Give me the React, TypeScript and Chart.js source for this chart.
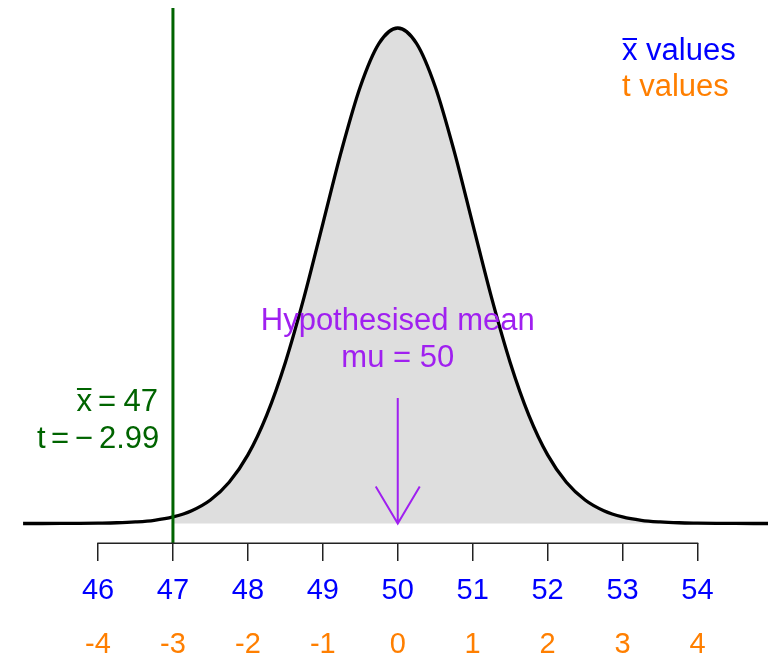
import React, { useEffect, useRef } from "react";
import { Chart, registerables } from "chart.js";

Chart.register(...registerables);

// ---- data ----
const xValues = [
  45, 45.25, 45.5, 45.75, 46, 46.25, 46.5, 46.75, 47, 47.25, 47.5, 47.75, 48, 48.25, 48.5, 48.75,
  49, 49.25, 49.5, 49.75, 50, 50.25, 50.5, 50.75, 51, 51.25, 51.5, 51.75, 52, 52.25, 52.5, 52.75,
  53, 53.25, 53.5, 53.75, 54, 54.25, 54.5, 54.75, 55,
];
const density = [
  0.00001, 0.00002, 0.00005, 0.0001, 0.0003, 0.0006, 0.0013, 0.0026, 0.0053, 0.0103, 0.0189, 0.0331,
  0.0551, 0.0869, 0.1294, 0.1818, 0.2407, 0.2997, 0.3508, 0.3856, 0.398, 0.3856, 0.3508, 0.2997,
  0.2407, 0.1818, 0.1294, 0.0869, 0.0551, 0.0331, 0.0189, 0.0103, 0.0053, 0.0026, 0.0013, 0.0006,
  0.0003, 0.0001, 0.00005, 0.00002, 0.00001,
];
const xTicks = [46, 47, 48, 49, 50, 51, 52, 53, 54];
const xTickLabels = ["46", "47", "48", "49", "50", "51", "52", "53", "54"];
const tTickLabels = ["-4", "-3", "-2", "-1", "0", "1", "2", "3", "4"];
const observedMean = 47;
const hypothesisedMean = 50;
const shadeFrom = 47;
const greenLineTop = 0.4141;
const arrowTop = 0.1008;
const xMin = 44.692;
const xMax = 54.941;
const yMin = -0.01566;
const yMax = 0.42048;

const legendLines = ["x values", "t values"];
const meanLabelLines = ["Hypothesised mean", "mu = 50"];
// pieces of the observed-mean label: [text, offset from the green line in px]
const observedLine1 = [["x", -96.5], ["=", -75], ["47", -49.5]] as [string, number][];
const observedLine2 = [["t", -136], ["=", -122], ["\u2212", -98.3], ["2.99", -74]] as [string, number][];

const BLUE = "#0000FF";
const ORANGE = "#FF7F00";
const GREEN = "#006400";
const PURPLE = "#A020F0";
const GREY = "#DEDEDE";
const FONT = "'Liberation Sans', Arial, Helvetica, sans-serif";

const curvePoints = xValues.map((x, i) => ({ x, y: density[i] }));
const shadePoints = curvePoints.filter((p) => p.x >= shadeFrom);

const overlayPlugin = {
  id: "overlay",
  afterDraw(chart: any) {
    const { ctx, scales, chartArea } = chart;
    const xs = scales.x;
    const ys = scales.y;
    ctx.save();

    // axis line spanning first to last tick
    ctx.strokeStyle = "#222";
    ctx.lineWidth = 1.5;
    ctx.beginPath();
    const ay = chartArea.bottom + 0.25;
    ctx.moveTo(xs.getPixelForValue(xTicks[0]) - 0.75, ay);
    ctx.lineTo(xs.getPixelForValue(xTicks[xTicks.length - 1]) + 0.75, ay);
    ctx.stroke();

    // arrow
    const ax = xs.getPixelForValue(hypothesisedMean);
    const tipY = ys.getPixelForValue(0);
    const topY = ys.getPixelForValue(arrowTop);
    ctx.strokeStyle = PURPLE;
    ctx.lineWidth = 2;
    ctx.beginPath();
    ctx.moveTo(ax, topY);
    ctx.lineTo(ax, tipY);
    ctx.moveTo(ax - 22, tipY - 37);
    ctx.lineTo(ax, tipY);
    ctx.lineTo(ax + 22, tipY - 37);
    ctx.stroke();

    ctx.textBaseline = "alphabetic";
    ctx.font = `31px ${FONT}`;

    // hypothesised mean label
    ctx.fillStyle = PURPLE;
    ctx.textAlign = "center";
    ctx.fillText(meanLabelLines[0], ax, 330);
    ctx.fillText(meanLabelLines[1], ax, 366.5);

    // observed mean label left of green line
    const gx = xs.getPixelForValue(observedMean);
    ctx.fillStyle = GREEN;
    ctx.textAlign = "left";
    const wx = ctx.measureText("x").width;
    observedLine1.forEach(([t, off]) => ctx.fillText(t, gx + off, 410.5));
    ctx.fillRect(gx + observedLine1[0][1] + 0.5, 388, wx - 1, 2);
    observedLine2.forEach(([t, off]) => ctx.fillText(t, gx + off, 447.5));

    // legend
    const lx = 622;
    ctx.fillStyle = BLUE;
    ctx.fillText(legendLines[0], lx, 60);
    ctx.fillRect(lx + 0.5, 38, wx - 1, 2);
    ctx.fillStyle = ORANGE;
    ctx.fillText(legendLines[1], lx, 96);

    ctx.restore();
  },
};

export default function App() {
  const ref = useRef<HTMLCanvasElement | null>(null);

  useEffect(() => {
    if (!ref.current) return;
    const tickFont = { family: FONT, size: 29, lineHeight: 1 };
    const chart = new Chart(ref.current, {
      type: "line",
      data: {
        datasets: [
          {
            label: "observed",
            data: [
              { x: observedMean, y: greenLineTop },
              { x: observedMean, y: yMin },
            ],
            borderColor: GREEN,
            borderWidth: 3,
            pointRadius: 0,
            fill: false,
          },
          {
            label: "curve",
            data: curvePoints,
            borderColor: "#000",
            borderWidth: 3.3,
            pointRadius: 0,
            fill: false,
            cubicInterpolationMode: "monotone",
          },
          {
            label: "shade",
            data: shadePoints,
            borderWidth: 0,
            borderColor: "rgba(0,0,0,0)",
            backgroundColor: GREY,
            pointRadius: 0,
            fill: "origin",
            cubicInterpolationMode: "monotone",
          },
        ],
      },
      options: {
        responsive: false,
        animation: false,
        devicePixelRatio: 1,
        layout: { padding: 0 },
        plugins: { legend: { display: false }, tooltip: { enabled: false } },
        scales: {
          x: {
            type: "linear",
            position: "bottom",
            min: xMin,
            max: xMax,
            weight: 1,
            afterBuildTicks: (s: any) => {
              s.ticks = xTicks.map((v) => ({ value: v }));
            },
            afterFit: (s: any) => {
              s.height = 62;
            },
            ticks: {
              autoSkip: false,
              maxRotation: 0,
              color: BLUE,
              font: tickFont,
              padding: 15.5,
              callback: (_v: any, i: number) => xTickLabels[i],
            },
            grid: {
              display: true,
              drawOnChartArea: false,
              drawTicks: true,
              tickLength: 18,
              color: "#222",
              lineWidth: 1.5,
            },
            border: { display: false },
          },
          x2: {
            type: "linear",
            position: "bottom",
            min: xMin,
            max: xMax,
            weight: 2,
            afterBuildTicks: (s: any) => {
              s.ticks = xTicks.map((v) => ({ value: v }));
            },
            afterFit: (s: any) => {
              s.height = 51;
            },
            ticks: {
              autoSkip: false,
              maxRotation: 0,
              color: ORANGE,
              font: tickFont,
              padding: 25.5,
              callback: (_v: any, i: number) => tTickLabels[i],
            },
            grid: { display: false, drawTicks: false },
            border: { display: false },
          },
          y: {
            type: "linear",
            display: false,
            min: yMin,
            max: yMax,
          },
        },
      },
      plugins: [overlayPlugin],
    } as any);
    return () => chart.destroy();
  }, []);

  return (
    <div style={{ position: "absolute", left: 0, top: 0, width: 768, height: 656, background: "#fff" }}>
      <canvas ref={ref} width={768} height={656} style={{ display: "block" }} />
    </div>
  );
}
